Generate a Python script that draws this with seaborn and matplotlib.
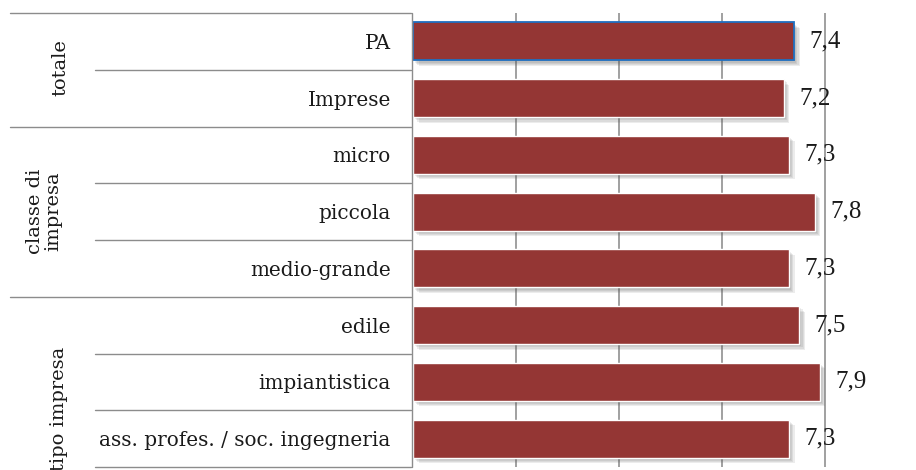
import matplotlib
matplotlib.use("Agg")
import matplotlib.pyplot as plt
import matplotlib.patheffects as pe
from matplotlib.lines import Line2D
import seaborn as sns

# data
categories = ["PA", "Imprese", "micro", "piccola", "medio-grande",
              "edile", "impiantistica", "ass. profes. / soc. ingegneria"]
values = [7.4, 7.2, 7.3, 7.8, 7.3, 7.5, 7.9, 7.3]
groups = ["totale", "classe di\nimpresa", "tipo impresa"]
group_sizes = [2, 3, 3]

bar_color = "#943634"
line_gray = "#8c8c8c"
txt_font = ["DejaVu Serif"]

sns.set_theme(style="white")
plt.rcParams["font.family"] = ["Liberation Serif", "DejaVu Serif"]

W, H = 916, 470
fig = plt.figure(figsize=(W / 100, H / 100), dpi=100)

def fx(px):
    return px / W

def fy(py):
    return 1 - py / H

ax_left, ax_top, ax_bottom = 413, 13, 467
ax = fig.add_axes([fx(ax_left), fy(ax_bottom), 515 / W, (ax_bottom - ax_top) / H])

sns.barplot(x=values, y=categories, orient="h", color=bar_color,
            width=0.67, saturation=1, ax=ax, zorder=3)

# soft drop shadow (stacked offsets to fake a blur)
shadow = [pe.SimplePatchShadow(offset=(o, -o), shadow_rgbFace="#555555", alpha=0.11)
          for o in (4.0, 3.2, 2.4, 1.6, 0.8)]
shadow.append(pe.Normal())
for i, p in enumerate(ax.patches):
    p.set_path_effects(shadow)
    if i == 0:
        p.set_edgecolor("#1f6fc0")
        p.set_linewidth(1.3)

ax.bar_label(ax.containers[0], labels=[f"{v:.1f}".replace(".", ",") for v in values],
             padding=11, fontsize=18, color="#1a1a1a", zorder=5)

ax.set_xlim(0, 10)
ax.set_ylim(len(categories) - 0.5, -0.5)
ax.set_xticks([2, 4, 6, 8])
ax.xaxis.grid(True, color="#868686", linewidth=1.1, zorder=0)
ax.set_axisbelow(True)
ax.tick_params(axis="x", labelbottom=False, length=0)
ax.tick_params(axis="y", length=0, pad=16, labelsize=14.4, labelcolor="#1a1a1a")
for lab in ax.get_yticklabels():
    lab.set_family(txt_font)
ax.set_xlabel("")
ax.set_ylabel("")
for s in ax.spines.values():
    s.set_visible(False)

# table lines on the left
row_h = (ax_bottom - ax_top) / len(categories)
fig.add_artist(Line2D([fx(412), fx(412)], [fy(ax_top), fy(ax_bottom)], color=line_gray, lw=1.0))
row = 0
for g, n in zip(groups, group_sizes):
    y0 = ax_top + row * row_h
    fig.add_artist(Line2D([fx(10), fx(411)], [fy(y0), fy(y0)], color=line_gray, lw=1.0))
    for k in range(1, n):
        yk = ax_top + (row + k) * row_h
        fig.add_artist(Line2D([fx(95), fx(411)], [fy(yk), fy(yk)], color=line_gray, lw=1.0))
    row += n
fig.add_artist(Line2D([fx(95), fx(411)], [fy(ax_bottom), fy(ax_bottom)], color=line_gray, lw=1.0))

# group labels
fig.text(fx(60), fy(68), groups[0], rotation=90, ha="center", va="center",
         fontsize=14, color="#1a1a1a", family=txt_font)
fig.text(fx(44), fy(211), groups[1], rotation=90, ha="center", va="center",
         fontsize=14, color="#1a1a1a", linespacing=1.0, family=txt_font)
fig.text(fx(59), fy(347), groups[2], rotation=90, ha="center", va="top",
         fontsize=14, color="#1a1a1a", family=txt_font)

fig.savefig("out.png", dpi=100)
